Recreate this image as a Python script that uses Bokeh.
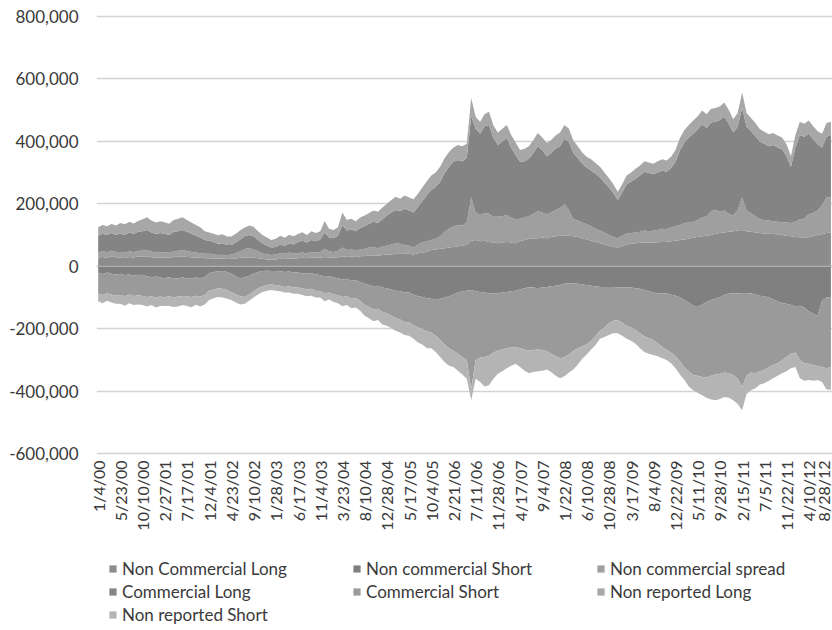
import math
from bokeh.plotting import figure
from bokeh.layouts import column
from bokeh.models import (ColumnDataSource, FixedTicker, NumeralTickFormatter,
                          Legend, LegendItem, Span, Range1d)
from bokeh.embed import file_html
from bokeh.resources import INLINE

# Category (weekly) axis labels, one every 20 weeks starting 1/4/00
tick_labels = ["1/4/00", "5/23/00", "10/10/00", "2/27/01", "7/17/01", "12/4/01",
               "4/23/02", "9/10/02", "1/28/03", "6/17/03", "11/4/03", "3/23/04",
               "8/10/04", "12/28/04", "5/17/05", "10/4/05", "2/21/06", "7/11/06",
               "11/28/06", "4/17/07", "9/4/07", "1/22/08", "6/10/08", "10/28/08",
               "3/17/09", "8/4/09", "12/22/09", "5/11/10", "9/28/10", "2/15/11",
               "7/5/11", "11/22/11", "4/10/12", "8/28/12"]
tick_weeks = [20 * i for i in range(len(tick_labels))]

# sampled every 4 weeks
weeks = [4 * k for k in range(166)]

non_commercial_long = [
    28000, 30000, 27000, 31000, 29000, 28000, 26000, 30000, 28000, 31000,
    31000, 32000, 29000, 27000, 28000, 28000, 27000, 30000, 31000, 32000,
    30000, 29000, 28000, 27000, 26000, 26000, 25000, 24000, 24000, 23000,
    24000, 25000, 27000, 28000, 29000, 28000, 26000, 24000, 22000, 22000,
    22000, 24000, 23000, 25000, 24000, 26000, 27000, 26000, 28000, 27000,
    27000, 30000, 28000, 28000, 29000, 32000, 30000, 31000, 30000, 32000,
    33000, 34000, 35000, 34000, 36000, 37000, 38000, 40000, 39000, 40000,
    40000, 38000, 42000, 44000, 46000, 52000, 54000, 56000, 58000, 60000,
    62000, 64000, 66000, 70000, 82000, 84000, 80000, 82000, 78000, 76000,
    74000, 76000, 78000, 76000, 74000, 80000, 84000, 88000, 90000, 90000,
    92000, 90000, 94000, 96000, 98000, 99000, 98000, 96000, 94000, 90000,
    86000, 82000, 78000, 74000, 70000, 66000, 62000, 60000, 64000, 70000,
    72000, 74000, 75000, 76000, 76000, 76000, 77000, 78000, 78000, 80000,
    82000, 84000, 86000, 88000, 92000, 94000, 96000, 98000, 100000, 104000,
    106000, 108000, 110000, 112000, 114000, 116000, 112000, 110000, 108000, 106000,
    105000, 104000, 103000, 102000, 100000, 98000, 96000, 94000, 93000, 92000,
    93000, 96000, 100000, 102000, 106000, 108000]

non_commercial_short = [
    -22000, -25000, -20000, -24000, -26000, -24000, -28000, -26000, -30000, -27000,
    -28000, -32000, -35000, -33000, -36000, -38000, -35000, -40000, -38000, -36000,
    -38000, -40000, -36000, -38000, -35000, -22000, -18000, -16000, -15000, -18000,
    -24000, -32000, -38000, -36000, -30000, -24000, -18000, -15000, -14000, -15000,
    -15000, -16000, -18000, -17000, -20000, -20000, -22000, -24000, -22000, -26000,
    -28000, -34000, -32000, -36000, -38000, -42000, -40000, -46000, -44000, -50000,
    -56000, -60000, -64000, -62000, -68000, -70000, -74000, -78000, -80000, -84000,
    -84000, -90000, -96000, -98000, -102000, -104000, -108000, -104000, -100000, -96000,
    -90000, -84000, -80000, -78000, -76000, -80000, -82000, -84000, -86000, -88000,
    -86000, -84000, -82000, -80000, -78000, -74000, -70000, -67000, -68000, -70000,
    -68000, -66000, -64000, -62000, -60000, -56000, -54000, -54000, -56000, -58000,
    -60000, -62000, -64000, -66000, -66000, -66000, -66000, -68000, -68000, -67000,
    -68000, -70000, -72000, -76000, -80000, -84000, -86000, -88000, -86000, -90000,
    -94000, -100000, -108000, -116000, -126000, -130000, -122000, -114000, -108000, -104000,
    -98000, -92000, -88000, -86000, -86000, -88000, -88000, -86000, -90000, -94000,
    -96000, -100000, -106000, -112000, -118000, -120000, -124000, -128000, -126000, -132000,
    -144000, -152000, -158000, -110000, -100000, -98000]

non_commercial_spread = [
    16000, 18000, 18000, 19000, 17000, 18000, 17000, 19000, 17000, 19000,
    19000, 20000, 18000, 17000, 18000, 17000, 16000, 18000, 19000, 20000,
    19000, 17000, 16000, 15000, 14000, 14000, 13000, 12000, 13000, 12000,
    14000, 17000, 21000, 27000, 29000, 26000, 22000, 18000, 16000, 14000,
    16000, 18000, 17000, 19000, 18000, 16000, 17000, 15000, 18000, 16000,
    19000, 26000, 20000, 18000, 21000, 28000, 22000, 23000, 20000, 22000,
    23000, 26000, 27000, 24000, 28000, 29000, 32000, 34000, 33000, 28000,
    26000, 22000, 28000, 32000, 34000, 32000, 34000, 40000, 52000, 60000,
    66000, 68000, 64000, 70000, 138000, 88000, 84000, 88000, 90000, 82000,
    84000, 84000, 86000, 80000, 76000, 72000, 72000, 72000, 78000, 86000,
    80000, 76000, 78000, 84000, 88000, 99000, 82000, 54000, 52000, 50000,
    48000, 46000, 42000, 40000, 38000, 34000, 32000, 30000, 34000, 34000,
    34000, 34000, 35000, 38000, 36000, 38000, 39000, 42000, 40000, 44000,
    46000, 48000, 52000, 52000, 50000, 54000, 60000, 62000, 76000, 76000,
    68000, 70000, 58000, 50000, 66000, 104000, 66000, 60000, 52000, 44000,
    43000, 42000, 41000, 40000, 40000, 42000, 42000, 48000, 57000, 60000,
    73000, 74000, 78000, 94000, 114000, 112000]

commercial_long = [
    54000, 56000, 55000, 56000, 55000, 59000, 57000, 59000, 58000, 60000,
    62000, 64000, 61000, 60000, 60000, 59000, 57000, 62000, 62000, 64000,
    61000, 58000, 54000, 50000, 44000, 42000, 40000, 36000, 37000, 33000,
    30000, 34000, 38000, 41000, 42000, 42000, 36000, 32000, 28000, 24000,
    24000, 28000, 26000, 30000, 28000, 36000, 38000, 35000, 38000, 37000,
    40000, 52000, 44000, 44000, 48000, 72000, 62000, 64000, 62000, 68000,
    72000, 76000, 80000, 80000, 86000, 96000, 102000, 106000, 104000, 116000,
    112000, 112000, 120000, 132000, 148000, 160000, 166000, 174000, 188000, 198000,
    206000, 208000, 206000, 206000, 260000, 268000, 260000, 278000, 284000, 252000,
    230000, 240000, 246000, 224000, 206000, 182000, 180000, 184000, 194000, 208000,
    200000, 186000, 190000, 196000, 198000, 210000, 218000, 212000, 200000, 188000,
    182000, 178000, 176000, 170000, 160000, 152000, 140000, 122000, 138000, 158000,
    164000, 172000, 180000, 188000, 186000, 180000, 184000, 186000, 184000, 190000,
    206000, 238000, 258000, 272000, 282000, 290000, 298000, 282000, 284000, 282000,
    294000, 300000, 288000, 266000, 266000, 286000, 268000, 262000, 256000, 248000,
    244000, 238000, 244000, 238000, 234000, 212000, 180000, 238000, 270000, 262000,
    258000, 236000, 212000, 184000, 194000, 200000]

commercial_short = [
    -66000, -67000, -66000, -66000, -68000, -68000, -68000, -64000, -65000, -66000,
    -67000, -66000, -61000, -67000, -61000, -61000, -61000, -60000, -59000, -59000,
    -58000, -58000, -58000, -59000, -57000, -56000, -56000, -54000, -57000, -58000,
    -58000, -58000, -58000, -62000, -60000, -56000, -52000, -49000, -46000, -43000,
    -45000, -46000, -48000, -47000, -48000, -48000, -48000, -50000, -50000, -52000,
    -52000, -52000, -52000, -54000, -54000, -56000, -56000, -58000, -58000, -60000,
    -68000, -70000, -74000, -74000, -78000, -80000, -84000, -87000, -90000, -94000,
    -96000, -98000, -100000, -102000, -106000, -108000, -114000, -132000, -150000, -166000,
    -180000, -196000, -210000, -222000, -316000, -220000, -210000, -206000, -200000, -188000,
    -184000, -182000, -180000, -180000, -180000, -188000, -196000, -203000, -200000, -196000,
    -200000, -206000, -216000, -226000, -234000, -234000, -228000, -216000, -206000, -198000,
    -190000, -176000, -158000, -140000, -130000, -116000, -108000, -104000, -112000, -123000,
    -128000, -134000, -142000, -148000, -150000, -152000, -160000, -170000, -182000, -186000,
    -194000, -204000, -216000, -220000, -222000, -220000, -232000, -242000, -242000, -242000,
    -246000, -248000, -254000, -262000, -274000, -298000, -262000, -254000, -252000, -242000,
    -236000, -222000, -210000, -198000, -182000, -170000, -156000, -148000, -174000, -178000,
    -168000, -164000, -162000, -212000, -226000, -225000]

non_reported_long = [
    27000, 28000, 28000, 29000, 29000, 33000, 34000, 34000, 34000, 35000,
    38000, 41000, 38000, 36000, 38000, 37000, 36000, 38000, 40000, 41000,
    38000, 36000, 34000, 33000, 28000, 26000, 26000, 27000, 28000, 27000,
    27000, 28000, 29000, 28000, 30000, 30000, 28000, 26000, 26000, 24000,
    26000, 28000, 25000, 27000, 26000, 25000, 27000, 24000, 28000, 26000,
    26000, 37000, 28000, 26000, 27000, 40000, 34000, 34000, 32000, 34000,
    34000, 34000, 36000, 36000, 38000, 38000, 40000, 42000, 40000, 42000,
    42000, 42000, 42000, 44000, 44000, 46000, 46000, 48000, 47000, 47000,
    46000, 48000, 48000, 46000, 58000, 38000, 38000, 38000, 42000, 40000,
    40000, 40000, 42000, 40000, 40000, 38000, 40000, 40000, 42000, 42000,
    40000, 42000, 42000, 42000, 44000, 44000, 42000, 40000, 38000, 36000,
    34000, 36000, 34000, 34000, 32000, 30000, 28000, 26000, 26000, 28000,
    30000, 32000, 32000, 34000, 34000, 34000, 36000, 36000, 36000, 36000,
    38000, 40000, 40000, 40000, 42000, 42000, 44000, 44000, 44000, 44000,
    44000, 46000, 44000, 42000, 44000, 50000, 44000, 42000, 42000, 40000,
    38000, 38000, 38000, 38000, 38000, 38000, 34000, 40000, 42000, 42000,
    42000, 42000, 42000, 44000, 44000, 42000]

non_reported_short = [
    -24000, -26000, -24000, -26000, -26000, -28000, -30000, -28000, -29000, -29000,
    -29000, -31000, -28000, -32000, -30000, -28000, -31000, -30000, -32000, -29000,
    -31000, -33000, -29000, -32000, -30000, -30000, -28000, -28000, -28000, -28000,
    -26000, -26000, -26000, -22000, -20000, -20000, -20000, -18000, -18000, -18000,
    -18000, -18000, -18000, -20000, -20000, -20000, -22000, -22000, -22000, -22000,
    -20000, -26000, -22000, -24000, -26000, -30000, -28000, -30000, -30000, -32000,
    -34000, -36000, -38000, -36000, -40000, -40000, -40000, -41000, -42000, -42000,
    -42000, -44000, -48000, -50000, -54000, -50000, -52000, -54000, -56000, -56000,
    -52000, -54000, -56000, -60000, -36000, -60000, -78000, -94000, -94000, -84000,
    -74000, -70000, -64000, -58000, -54000, -60000, -68000, -72000, -70000, -70000,
    -66000, -58000, -58000, -62000, -64000, -62000, -58000, -60000, -52000, -40000,
    -32000, -28000, -30000, -26000, -30000, -38000, -40000, -42000, -42000, -42000,
    -42000, -44000, -48000, -50000, -50000, -48000, -42000, -36000, -32000, -34000,
    -38000, -42000, -40000, -48000, -48000, -54000, -58000, -64000, -76000, -82000,
    -80000, -78000, -78000, -80000, -80000, -74000, -58000, -56000, -48000, -42000,
    -42000, -44000, -42000, -40000, -42000, -46000, -46000, -46000, -58000, -56000,
    -52000, -50000, -44000, -48000, -68000, -72000]

series_names = ["Non Commercial Long", "Non commercial Short", "Non commercial spread",
                "Commercial Long", "Commercial Short", "Non reported Long",
                "Non reported Short"]
legend_keys = ["ncl", "ncs", "spr", "cml", "cms", "nrl", "nrs"]
colors = {"ncl": "#8c8c8c", "ncs": "#808080", "spr": "#9f9f9f", "cml": "#848484",
          "cms": "#9a9a9a", "nrl": "#a7a7a7", "nrs": "#b4b4b4"}

FONT = "Lato"
TXT = "#3a3a3a"
FS = "16px"

src = ColumnDataSource(dict(week=weeks, ncl=non_commercial_long, spr=non_commercial_spread,
                            cml=commercial_long, nrl=non_reported_long,
                            ncs=non_commercial_short, cms=commercial_short,
                            nrs=non_reported_short))

p = figure(width=832, height=540, output_backend="svg", toolbar_location=None,
           x_range=Range1d(-1.5, 661.4), y_range=Range1d(-605000, 805000),
           min_border_left=96, min_border_right=0, min_border_top=14,
           min_border_bottom=85)
p.outline_line_color = None
p.background_fill_color = "white"
p.border_fill_color = "white"

pos_keys = ["ncl", "spr", "cml", "nrl"]
neg_keys = ["ncs", "cms", "nrs"]
p.varea_stack(pos_keys, x="week", color=[colors[k] for k in pos_keys], source=src)
p.varea_stack(neg_keys, x="week", color=[colors[k] for k in neg_keys], source=src)

p.add_layout(Span(location=0, dimension="width", line_color="#b9b9b9", line_width=1))

p.ygrid.grid_line_color = "#d3d3d3"
p.ygrid.grid_line_width = 1.5
p.xgrid.grid_line_color = None

p.yaxis.ticker = FixedTicker(ticks=[-600000, -400000, -200000, 0, 200000, 400000, 600000, 800000])
p.yaxis.formatter = NumeralTickFormatter(format="0,0")
p.yaxis.axis_line_color = None
p.yaxis.major_tick_line_color = None
p.yaxis.minor_tick_line_color = None
p.yaxis.major_tick_out = 0
p.yaxis.major_tick_in = 0
p.yaxis.major_label_standoff = 18
p.yaxis.major_label_text_font = FONT
p.yaxis.major_label_text_font_size = "17px"
p.yaxis.major_label_text_color = TXT

p.xaxis.ticker = FixedTicker(ticks=tick_weeks)
p.xaxis.major_label_overrides = {w: lab for w, lab in zip(tick_weeks, tick_labels)}
p.xaxis.major_label_orientation = math.pi / 2
p.xaxis.axis_line_color = None
p.xaxis.major_tick_line_color = None
p.xaxis.minor_tick_line_color = None
p.xaxis.major_tick_out = 0
p.xaxis.major_tick_in = 0
p.xaxis.major_label_standoff = 5
p.xaxis.major_label_text_font = FONT
p.xaxis.major_label_text_font_size = FS
p.xaxis.major_label_text_color = TXT

# legend strip below the chart (its frame is aligned with the chart's frame)
lg = figure(width=832, height=90, output_backend="svg", toolbar_location=None,
            x_range=Range1d(0, 1), y_range=Range1d(0, 1),
            min_border_left=0, min_border_right=0, min_border_top=0, min_border_bottom=0)
lg.outline_line_color = None
lg.axis.visible = False
lg.grid.visible = False
items = []
for name, k in zip(series_names, legend_keys):
    # zero-area proxy glyph, only used to draw the legend swatch
    r = lg.varea(x=[0], y1=[0], y2=[0], color=colors[k])
    items.append(LegendItem(label=name, renderers=[r]))
legend = Legend(items=items, location=(12, 4), orientation="horizontal", ncols=3,
                glyph_width=9, glyph_height=9, label_standoff=5, spacing=0,
                padding=0, margin=0, label_width=230, label_height=23,
                label_text_font=FONT, label_text_font_size="17px",
                label_text_color=TXT, border_line_color=None,
                background_fill_alpha=0)
lg.add_layout(legend)

layout = column(p, lg, spacing=0)
open("out.html", "w").write(file_html(layout, INLINE))
